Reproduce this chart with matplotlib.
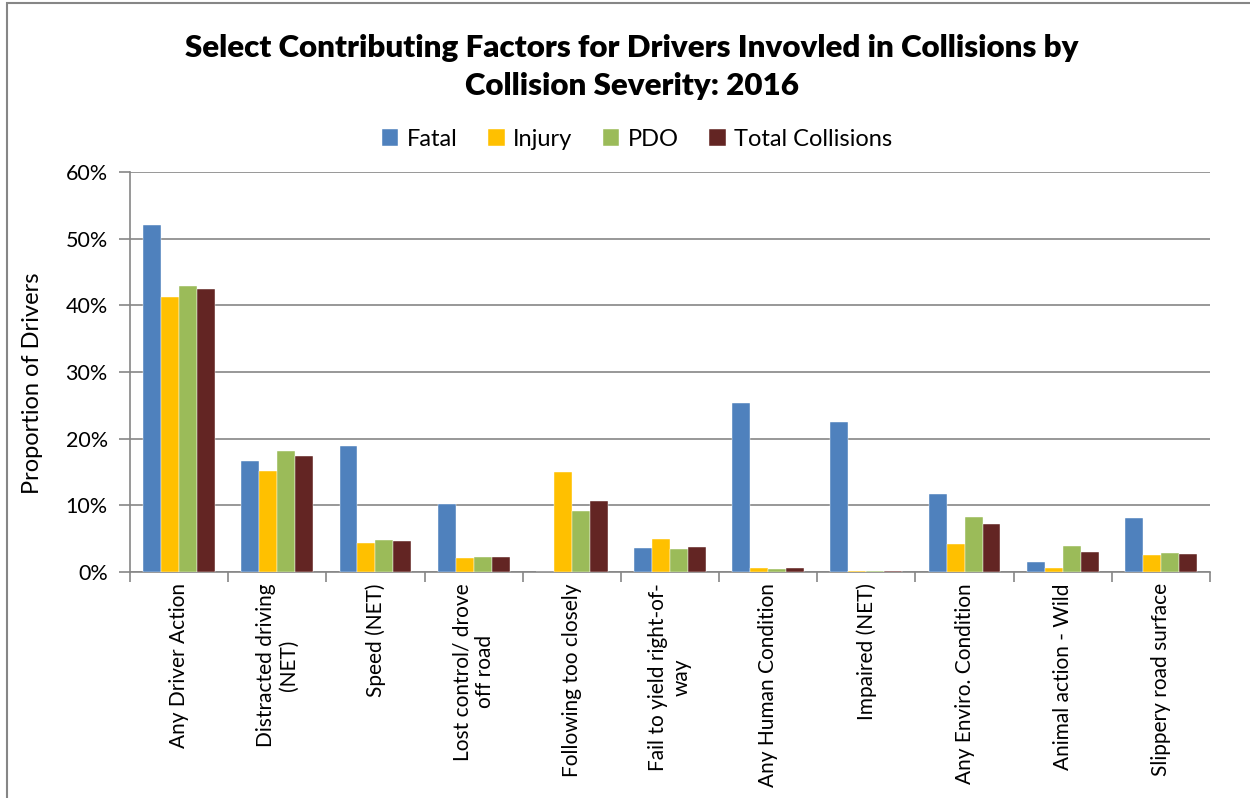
import matplotlib.pyplot as plt
from matplotlib.patches import Rectangle
from matplotlib.ticker import FuncFormatter, FixedLocator
import numpy as np

plt.rcParams['font.family'] = ['Lato', 'DejaVu Sans']

categories = ['Any Driver Action', 'Distracted driving\n(NET)', 'Speed (NET)',
              'Lost control/ drove\noff road', 'Following too closely',
              'Fail to yield right-of-\nway', 'Any Human Condition',
              'Impaired (NET)', 'Any Enviro. Condition', 'Animal action - Wild',
              'Slippery road surface']

fatal = [52.0, 16.7, 18.9, 10.2, 0.0, 3.65, 25.4, 22.5, 11.65, 1.5, 8.05]
injury = [41.2, 15.2, 4.35, 2.15, 14.95, 4.9, 0.65, 0.2, 4.2, 0.6, 2.55]
pdo = [42.9, 18.15, 4.8, 2.3, 9.15, 3.4, 0.45, 0.1, 8.2, 3.9, 2.8]
total = [42.45, 17.4, 4.7, 2.3, 10.65, 3.8, 0.55, 0.15, 7.15, 3.0, 2.7]

series = [('Fatal', fatal, '#4F81BD'),
          ('Injury', injury, '#FFC000'),
          ('PDO', pdo, '#9BBB59'),
          ('Total Collisions', total, '#632523')]

W, H = 1250, 798
fig = plt.figure(figsize=(W / 100, H / 100), dpi=100)

# chart frame (cut off at right and bottom like the screenshot)
fig.patches.append(Rectangle((7 / W, -0.05), 1.1, 1 - 3 / H + 0.05,
                             transform=fig.transFigure, fill=False,
                             edgecolor='#868686', linewidth=1.5))

ax = fig.add_axes([130 / W, (H - 572) / H, 1080 / W, 400 / H])

x = np.arange(len(categories))
bw = 0.183
for i, (name, vals, col) in enumerate(series):
    ax.bar(x + (i - 1.5) * bw, vals, bw, color=col, label=name,
           edgecolor='white', linewidth=0.3, zorder=3)

ax.set_xlim(-0.5, len(categories) - 0.5)
ax.set_ylim(0, 60)
ax.set_yticks(np.arange(0, 61, 10))
ax.yaxis.set_major_formatter(FuncFormatter(lambda v, p: '%d%%' % v))
ax.grid(axis='y', color='#868686', linewidth=1.2, zorder=0)

ax.set_xticks(x)
ax.set_xticklabels(categories, rotation=90, ha='center', va='top',
                   fontsize=15, linespacing=1.2)
ax.xaxis.set_minor_locator(FixedLocator(np.arange(-0.5, len(categories), 1)))
ax.tick_params(axis='x', which='major', length=0, pad=8)
ax.tick_params(axis='x', which='minor', length=7, color='#868686', width=1.2)
ax.tick_params(axis='y', length=8, color='#868686', width=1.2,
               labelsize=15.5, pad=8)

for s in ['top', 'right']:
    ax.spines[s].set_visible(False)
for s in ['left', 'bottom']:
    ax.spines[s].set_color('#868686')
    ax.spines[s].set_linewidth(1.2)

fig.text(33 / W, 1 - 383 / H, 'Proportion of Drivers', rotation=90,
         ha='center', va='center', fontsize=17)

fig.text(632 / W, 1 - 67 / H,
         'Select Contributing Factors for Drivers Invovled in Collisions by\n'
         'Collision Severity: 2016',
         ha='center', va='center', fontsize=22.5, fontweight='heavy',
         linespacing=1.4)

fig.legend(loc='center', bbox_to_anchor=(637 / W, 1 - 139 / H), ncol=4,
           frameon=False, fontsize=17, handlelength=0.7, handleheight=0.7,
           handletextpad=0.35, columnspacing=1.3, borderaxespad=0)

fig.savefig('out.png', dpi=100, facecolor='white')
